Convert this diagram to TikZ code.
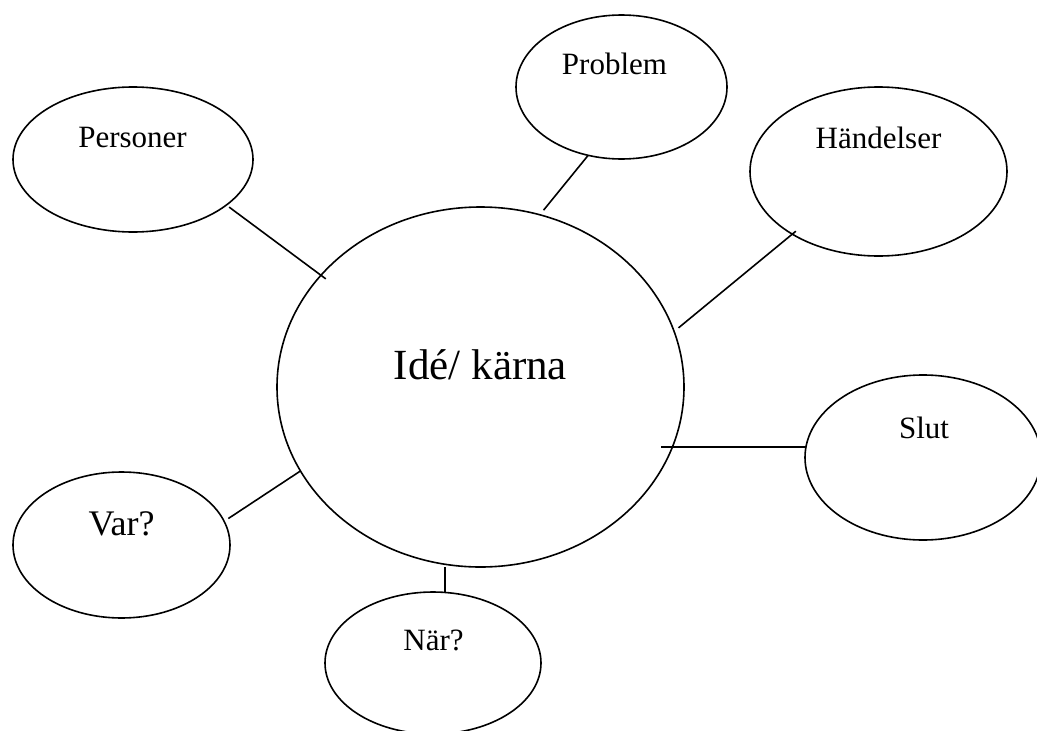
\documentclass[tikz,border=0pt]{standalone}
\usepackage{fontspec}
\setmainfont{Liberation Serif}
\usetikzlibrary{shapes.geometric}
\begin{document}
\begin{tikzpicture}[x=1pt,y=-1pt,
  bubble/.style={ellipse,draw,line width=1.6pt,inner sep=0pt,outer sep=0pt},
  lbl/.style={anchor=base,inner sep=0pt,font=\fontsize{31}{31}\selectfont},
  link/.style={line width=1.6pt}]
\useasboundingbox (0,0) rectangle (1037,731);
\clip (0,0) rectangle (1037,731);
% ellipses
\node[bubble,minimum width=407pt,minimum height=360pt] (c) at (480.5,387) {};
\node[bubble,minimum width=240pt,minimum height=145pt] (pe) at (133,159.5) {};
\node[bubble,minimum width=211pt,minimum height=144pt] (pr) at (621.5,87) {};
\node[bubble,minimum width=257pt,minimum height=169pt] (ha) at (878.5,171.5) {};
\node[bubble,minimum width=236pt,minimum height=165pt] (sl) at (923,457.5) {};
\node[bubble,minimum width=217pt,minimum height=146pt] (va) at (121.5,545) {};
\node[bubble,minimum width=216pt,minimum height=142pt] (na) at (433,663) {};
% labels
\node[lbl,font=\fontsize{43}{43}\selectfont] (ct) at (480.5,379) {Idé/ kärna};
\node[lbl] (pet) at (132.5,147) {Personer};
\node[lbl] (prt) at (614.5,74) {Problem};
\node[lbl] (hat) at (878.5,148) {Händelser};
\node[lbl] (slt) at (924,438) {Slut};
\node[lbl,font=\fontsize{36}{36}\selectfont] (vat) at (121.5,535) {Var?};
\node[lbl] (nat) at (433.5,650) {När?};
% connectors
\draw[link,shorten <=3.5pt,shorten >=-6pt] (pe.-26.3) -- (c.145.5);
\draw[link,shorten >=6pt] (pr.244.4) -- (c.71.9);
\draw[link,shorten <=-4.6pt,shorten >=5.7pt] (ha.216.6) -- (c.16.55);
\draw[link,shorten >=180.5pt] (sl.175.4) -- (sl.175.4 -| c.center);
\draw[link,shorten <=5pt] (va.13.1) -- (c.205.5);
\draw[link] ([xshift=12pt]na.north) -- ([xshift=12pt]na.north |- c.south);
\end{tikzpicture}
\end{document}
